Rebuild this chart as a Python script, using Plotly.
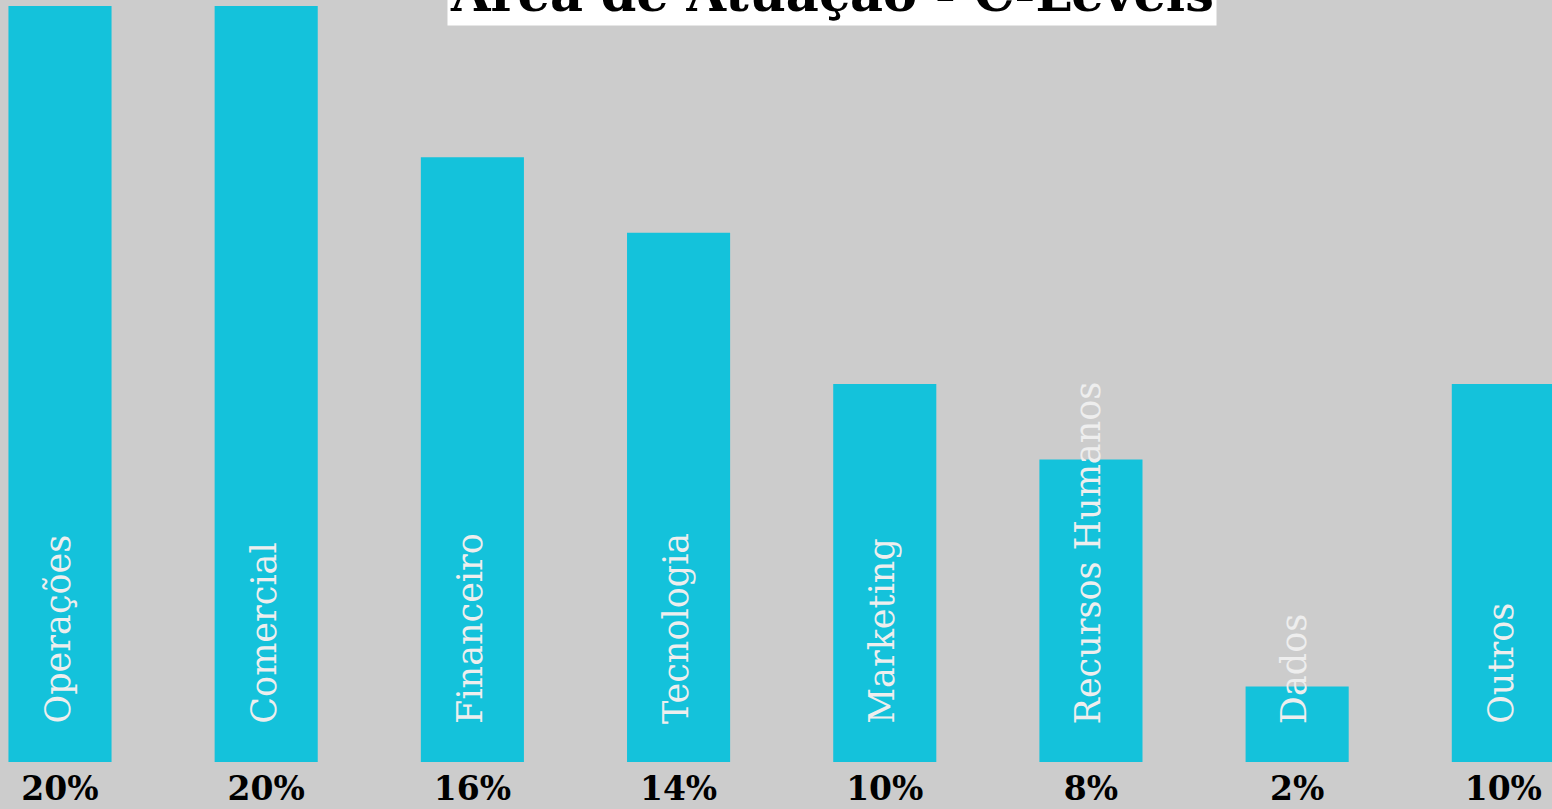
import plotly.graph_objects as go

areas = ["Operações", "Comercial", "Financeiro", "Tecnologia",
         "Marketing", "Recursos Humanos", "Dados", "Outros"]
percent = [20, 20, 16, 14, 10, 8, 2, 10]
percent_labels = [f"{p}%" for p in percent]

bar_color = "#14c2db"
bg_color = "#cccccc"
font_name = "DejaVu Serif"

fig = go.Figure(
    go.Bar(
        x=list(range(len(areas))),
        y=percent,
        marker=dict(color=bar_color, line=dict(width=0)),
        width=0.5,
        hoverinfo="skip",
    )
)

# area names written up the bars, starting near the baseline
for i, name in enumerate(areas):
    fig.add_annotation(
        x=i, y=0, xref="x", yref="y",
        text=name, textangle=-90,
        xanchor="center", yanchor="bottom",
        yshift=36, xshift=-3,
        showarrow=False,
        font=dict(family=font_name, size=35, color="#eeeeee"),
    )

# title box, partly pushed off the top of the canvas
fig.add_annotation(
    x=832 / 1552, y=(762 - 26) / 762, xref="paper", yref="paper",
    text="<b>Área de Atuação - C-Levels</b>",
    xanchor="center", yanchor="bottom",
    showarrow=False, bgcolor="white", borderpad=2,
    font=dict(family=font_name, size=51, color="black"),
)

fig.update_layout(
    width=1552,
    height=809,
    margin=dict(t=0, l=0, r=0, b=47),
    paper_bgcolor=bg_color,
    plot_bgcolor=bg_color,
    showlegend=False,
    xaxis=dict(
        range=[-0.291, 7.236],
        tickvals=list(range(len(areas))),
        ticktext=[f"<b>{t}</b>" for t in percent_labels],
        tickfont=dict(family=font_name, size=33, color="black"),
        ticklabelstandoff=4,
        showgrid=False, zeroline=False, showline=False, ticks="",
    ),
    yaxis=dict(
        range=[0, 762 / 37.8],
        visible=False,
        showgrid=False, zeroline=False,
    ),
)

fig.write_html(
    "out.html",
    config={"displayModeBar": False},
    post_script="document.body.style.margin = '0';",
)
